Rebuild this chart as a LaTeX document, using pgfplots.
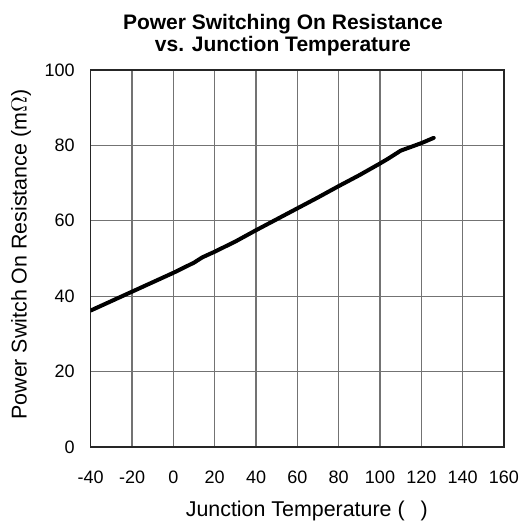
\documentclass[border=0pt]{standalone}
\usepackage{fontspec}
\setmainfont{Liberation Sans}
\usepackage{pgfplots}
\pgfplotsset{compat=1.18}
\begin{document}
\begin{tikzpicture}
\begin{axis}[
  scale only axis,
  width=206.65pt, height=188.5pt,
  xmin=-40, xmax=160, ymin=0, ymax=100,
  xtick={-40,-20,...,160}, ytick={0,20,...,100},
  grid=major,
  major grid style={black!55, line width=0.6pt},
  axis line style={black!85, line width=0.7pt},
  major tick length=0pt,
  /pgf/number format/assume math mode=true,
  tick label style={font=\fontsize{9}{10}\selectfont},
  xticklabel style={yshift=-8.5pt},
  yticklabel style={xshift=-4.5pt},
  xlabel={Junction Temperature (\hspace{0.75em})},
  ylabel={Power Switch On Resistance (m$\Omega$)},
  label style={font=\fontsize{10.7}{12}\selectfont},
  xlabel style={at={(axis description cs:0.523,0)}, anchor=base, yshift=-34.8pt},
  ylabel style={at={(axis description cs:-0.155,0.51)}, anchor=base},
  title={Power Switching On Resistance\\vs. Junction Temperature},
  title style={at={(axis description cs:0.465,1)}, anchor=south, inner sep=0pt, yshift=0.8pt, align=center, font=\fontsize{10.5}{11}\selectfont\bfseries},
]
\addplot[black, line width=2pt, line cap=round, line join=round] coordinates {
(-40,36.2) (-30,38.7) (-20,41.2) (-10,43.7) (0,46.2) (10,48.9) (14,50.3) (20,51.8)
(30,54.5) (40,57.5) (50,60.4) (60,63.3) (70,66.2) (80,69.2) (90,72.1) (100,75.2)
(104,76.5) (110,78.6) (120,80.6) (126,82.0)
};
\end{axis}
\pgfresetboundingbox
\path ([xshift=-45.35pt,yshift=-39pt]current axis.south west) rectangle ([xshift=11pt,yshift=35pt]current axis.north east);
\end{tikzpicture}
\end{document}
